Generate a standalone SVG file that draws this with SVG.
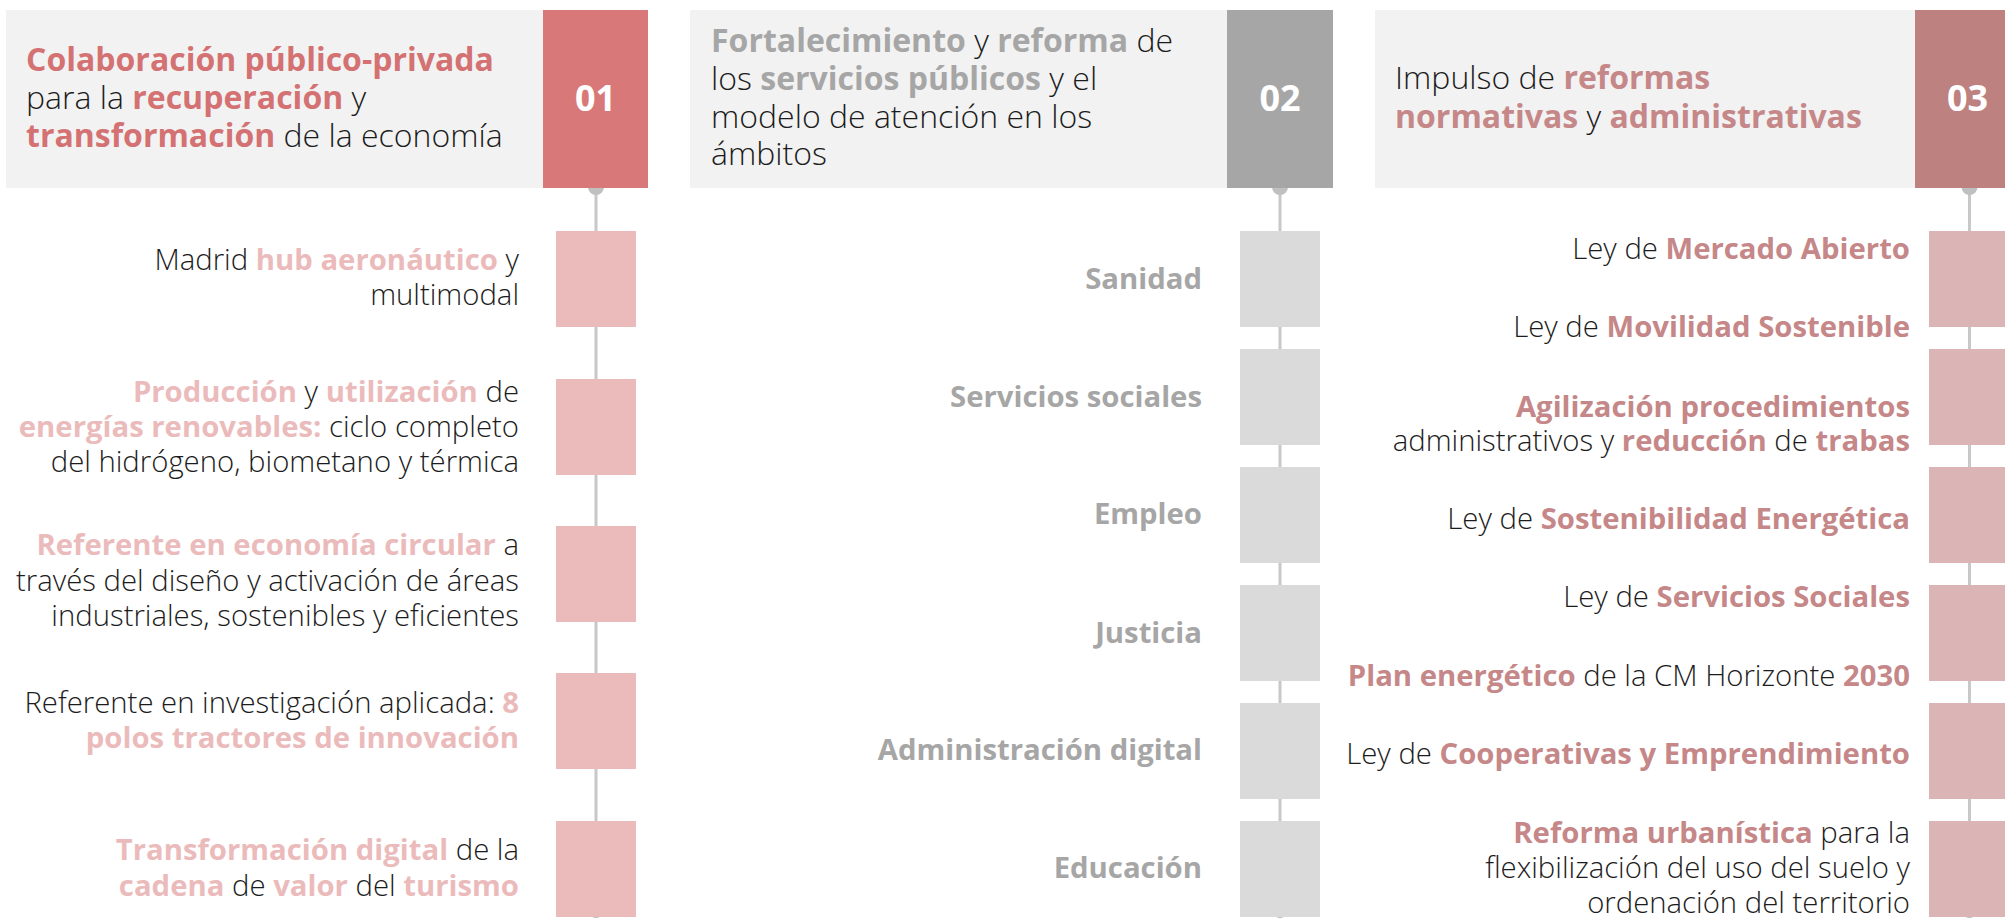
<svg xmlns="http://www.w3.org/2000/svg" width="2005" height="918" viewBox="0 0 2005 918">
<style>
text { font-family: "Open Sans", "Noto Sans", sans-serif; font-weight: 300; fill: #1c1c1c; }
.h { font-size: 32px; }
.i { font-size: 29.3px; }
.b { font-weight: 700; }
.n { font-size: 36px; font-weight: 700; fill: #ffffff; text-anchor: middle; }
.e { text-anchor: end; }
.hbg { fill: #f2f2f2; }
.c1 { fill: #d87878; }
.c1t { fill: #d47273; }
.c1i { fill: #ebbbbc; }
.c2 { fill: #a6a6a6; }
.c2i { fill: #dadada; }
.c3 { fill: #bd8180; }
.c3t { fill: #c58788; }
.c3i { fill: #dbb5b5; }
.ln { stroke: #c8c8c8; stroke-width: 3; fill: none; }
.dot { fill: #c0c0c0; }
</style>

<g id="connectors">
  <line class="ln" x1="596" y1="188" x2="596" y2="918"/>
  <circle class="dot" cx="596" cy="187" r="8"/>
  <circle class="dot" cx="596" cy="925" r="8"/>
  <line class="ln" x1="1280" y1="188" x2="1280" y2="918"/>
  <circle class="dot" cx="1280" cy="187" r="8"/>
  <circle class="dot" cx="1280" cy="925" r="8"/>
  <line class="ln" x1="1969.5" y1="188" x2="1969.5" y2="918"/>
  <circle class="dot" cx="1969.5" cy="187" r="8"/>
  <circle class="dot" cx="1969.5" cy="925" r="8"/>
</g>

<!-- Column 1 -->
<g id="header-01">
  <rect class="hbg" x="6" y="10" width="537" height="178"/>
  <rect class="c1" x="543" y="10" width="105" height="178"/>
  <text class="n" x="595.5" y="111">01</text>
  <text class="h" x="26" y="71"><tspan class="b c1t">Colaboración público-privada</tspan></text>
  <text class="h" x="26" y="109">para la <tspan class="b c1t">recuperación</tspan> y</text>
  <text class="h" x="26" y="147"><tspan class="b c1t">transformación</tspan> de la economía</text>
</g>
<g id="item-01-1">
  <rect class="c1i" x="556" y="231" width="80" height="96"/>
  <text class="i e" x="519" y="270">Madrid <tspan class="b c1i">hub aeronáutico</tspan> y</text>
  <text class="i e" x="519" y="305">multimodal</text>
</g>
<g id="item-01-2">
  <rect class="c1i" x="556" y="379" width="80" height="96"/>
  <text class="i e" x="519" y="402"><tspan class="b c1i">Producción</tspan> y <tspan class="b c1i">utilización</tspan> de</text>
  <text class="i e" x="519" y="437"><tspan class="b c1i">energías renovables:</tspan> ciclo completo</text>
  <text class="i e" x="519" y="472">del hidrógeno, biometano y térmica</text>
</g>
<g id="item-01-3">
  <rect class="c1i" x="556" y="526" width="80" height="96"/>
  <text class="i e" x="519" y="555"><tspan class="b c1i">Referente en economía circular</tspan> a</text>
  <text class="i e" x="519" y="591">través del diseño y activación de áreas</text>
  <text class="i e" x="519" y="626">industriales, sostenibles y eficientes</text>
</g>
<g id="item-01-4">
  <rect class="c1i" x="556" y="673" width="80" height="96"/>
  <text class="i e" x="519" y="713">Referente en investigación aplicada: <tspan class="b c1i">8</tspan></text>
  <text class="i e" x="519" y="748"><tspan class="b c1i">polos tractores de innovación</tspan></text>
</g>
<g id="item-01-5">
  <rect class="c1i" x="556" y="821" width="80" height="96"/>
  <text class="i e" x="519" y="860"><tspan class="b c1i">Transformación digital</tspan> de la</text>
  <text class="i e" x="519" y="896"><tspan class="b c1i">cadena</tspan> de <tspan class="b c1i">valor</tspan> del <tspan class="b c1i">turismo</tspan></text>
</g>

<!-- Column 2 -->
<g id="header-02">
  <rect class="hbg" x="690" y="10" width="537" height="178"/>
  <rect class="c2" x="1227" y="10" width="106" height="178"/>
  <text class="n" x="1280" y="111">02</text>
  <text class="h" x="711" y="52"><tspan class="b c2">Fortalecimiento</tspan> y <tspan class="b c2">reforma</tspan> de</text>
  <text class="h" x="711" y="90">los <tspan class="b c2">servicios públicos</tspan> y el</text>
  <text class="h" x="711" y="128">modelo de atención en los</text>
  <text class="h" x="711" y="165">ámbitos</text>
</g>
<g id="item-02-1">
  <rect class="c2i" x="1240" y="231" width="80" height="96"/>
  <text class="i e b c2" x="1202" y="289">Sanidad</text>
</g>
<g id="item-02-2">
  <rect class="c2i" x="1240" y="349" width="80" height="96"/>
  <text class="i e b c2" x="1202" y="407">Servicios sociales</text>
</g>
<g id="item-02-3">
  <rect class="c2i" x="1240" y="467" width="80" height="96"/>
  <text class="i e b c2" x="1202" y="524">Empleo</text>
</g>
<g id="item-02-4">
  <rect class="c2i" x="1240" y="585" width="80" height="96"/>
  <text class="i e b c2" x="1202" y="643">Justicia</text>
</g>
<g id="item-02-5">
  <rect class="c2i" x="1240" y="703" width="80" height="96"/>
  <text class="i e b c2" x="1202" y="760">Administración digital</text>
</g>
<g id="item-02-6">
  <rect class="c2i" x="1240" y="821" width="80" height="96"/>
  <text class="i e b c2" x="1202" y="878">Educación</text>
</g>

<!-- Column 3 -->
<g id="header-03">
  <rect class="hbg" x="1375" y="10" width="540" height="178"/>
  <rect class="c3" x="1915" y="10" width="105" height="178"/>
  <text class="n" x="1967.5" y="111">03</text>
  <text class="h" x="1395" y="89">Impulso de <tspan class="b c3t">reformas</tspan></text>
  <text class="h" x="1395" y="128"><tspan class="b c3t">normativas</tspan> y <tspan class="b c3t">administrativas</tspan></text>
</g>
<g id="boxes-03">
  <rect class="c3i" x="1929" y="231" width="81" height="96"/>
  <rect class="c3i" x="1929" y="349" width="81" height="96"/>
  <rect class="c3i" x="1929" y="467" width="81" height="96"/>
  <rect class="c3i" x="1929" y="585" width="81" height="96"/>
  <rect class="c3i" x="1929" y="703" width="81" height="96"/>
  <rect class="c3i" x="1929" y="821" width="81" height="96"/>
</g>
<g id="item-03-1">
  <text class="i e" x="1910" y="259">Ley de <tspan class="b c3t">Mercado Abierto</tspan></text>
</g>
<g id="item-03-2">
  <text class="i e" x="1910" y="337">Ley de <tspan class="b c3t">Movilidad Sostenible</tspan></text>
</g>
<g id="item-03-3">
  <text class="i e" x="1910" y="417"><tspan class="b c3t">Agilización procedimientos</tspan></text>
  <text class="i e" x="1910" y="451">administrativos y <tspan class="b c3t">reducción</tspan> de <tspan class="b c3t">trabas</tspan></text>
</g>
<g id="item-03-4">
  <text class="i e" x="1910" y="529">Ley de <tspan class="b c3t">Sostenibilidad Energética</tspan></text>
</g>
<g id="item-03-5">
  <text class="i e" x="1910" y="607">Ley de <tspan class="b c3t">Servicios Sociales</tspan></text>
</g>
<g id="item-03-6">
  <text class="i e" x="1910" y="686"><tspan class="b c3t">Plan energético</tspan> de la CM Horizonte <tspan class="b c3t">2030</tspan></text>
</g>
<g id="item-03-7">
  <text class="i e" x="1910" y="764">Ley de <tspan class="b c3t">Cooperativas y Emprendimiento</tspan></text>
</g>
<g id="item-03-8">
  <text class="i e" x="1910" y="843"><tspan class="b c3t">Reforma urbanística</tspan> para la</text>
  <text class="i e" x="1910" y="878">flexibilización del uso del suelo y</text>
  <text class="i e" x="1910" y="913">ordenación del territorio</text>
</g>
</svg>
